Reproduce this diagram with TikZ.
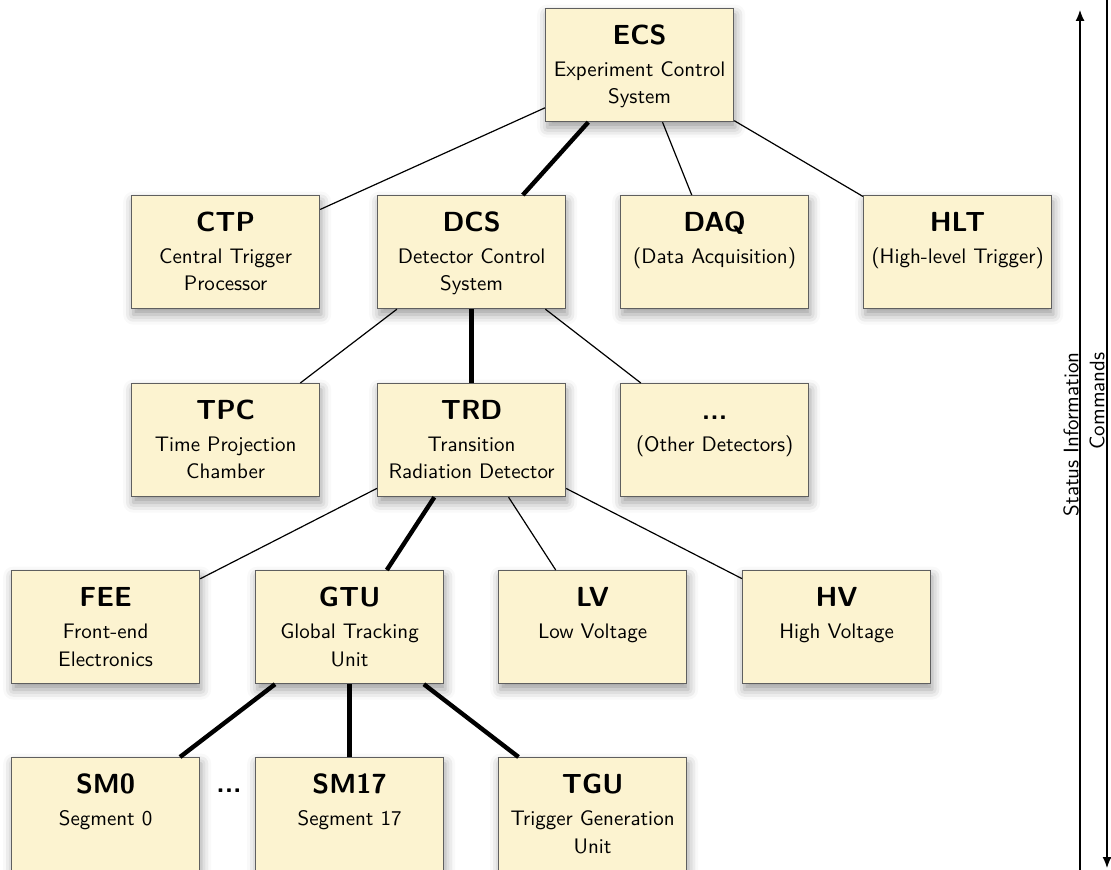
\documentclass[tikz,border=0pt]{standalone}
\usetikzlibrary{shadows.blur,arrows.meta}
\definecolor{boxfill}{RGB}{252,243,208}
\definecolor{boxline}{RGB}{95,95,95}
% box contents: bold title on top, description below, top aligned
\newcommand\unitbox[2]{\begin{minipage}[c][56.5pt][t]{94pt}\centering
  \rule{0pt}{18pt}{\fontsize{13.8}{16}\selectfont\bfseries #1}\par\vspace{2.3pt}
  \fontsize{10.5}{13.7}\selectfont #2\par\end{minipage}}
\begin{document}
\begin{tikzpicture}[x=0.5pt,y=-0.5pt,font=\sffamily,
  blk/.style={draw=boxline,fill=boxfill,inner sep=0pt,anchor=north west,line width=0.6pt,
    blur shadow={shadow xshift=0.8pt,shadow yshift=-3pt,shadow blur radius=5pt,shadow opacity=40}},
  thinlink/.style={line width=0.6pt},
  thicklink/.style={line width=2.2pt},
  flow/.style={line width=0.6pt,-{Latex[length=5.5pt,width=4.5pt]}},
  sidetext/.style={rotate=90,anchor=east,inner sep=0pt,font=\sffamily\fontsize{10.5}{12}\selectfont}]
\useasboundingbox (0,0) rectangle (1111,870);

% level 0
\node[blk] (ECS) at (545,8) {\unitbox{ECS}{Experiment Control\\System}};
% level 1
\node[blk] (CTP) at (131,195) {\unitbox{CTP}{Central Trigger\\Processor}};
\node[blk] (DCS) at (377,195) {\unitbox{DCS}{Detector Control\\System}};
\node[blk] (DAQ) at (620,195) {\unitbox{DAQ}{(Data Acquisition)}};
\node[blk] (HLT) at (863,195) {\unitbox{HLT}{(High-level Trigger)}};
% level 2
\node[blk] (TPC) at (131,383) {\unitbox{TPC}{Time Projection\\Chamber}};
\node[blk] (TRD) at (377,383) {\unitbox{TRD}{Transition\\Radiation Detector}};
\node[blk] (OTH) at (620,383) {\unitbox{...}{(Other Detectors)}};
% level 3
\node[blk] (FEE) at (11,570) {\unitbox{FEE}{Front-end\\Electronics}};
\node[blk] (GTU) at (255,570) {\unitbox{GTU}{Global Tracking\\Unit}};
\node[blk] (LV) at (498,570) {\unitbox{LV}{Low Voltage}};
\node[blk] (HV) at (742,570) {\unitbox{HV}{High Voltage}};
% level 4
\node[blk] (SM0) at (11,757) {\unitbox{SM0}{Segment 0}};
\node[blk] (SM17) at (255,757) {\unitbox{SM17}{Segment 17}};
\node[blk] (TGU) at (498,757) {\unitbox{TGU}{Trigger Generation\\Unit}};
\node[anchor=base,font=\sffamily\fontsize{13.8}{16}\selectfont\bfseries,inner sep=0pt] (gap) at (229,792) {...};

% hierarchy links; the thick ones lead down to the TGU
\draw[thinlink] (ECS) -- (CTP);
\draw[thicklink] (ECS) -- (DCS);
\draw[thinlink] (ECS) -- (DAQ);
\draw[thinlink] (ECS) -- (HLT);
\draw[thinlink] (DCS) -- (TPC);
\draw[thicklink] (DCS) -- (TRD);
\draw[thinlink] (DCS) -- (OTH);
\draw[thinlink] (TRD) -- (FEE);
\draw[thicklink] (TRD) -- (GTU);
\draw[thinlink] (TRD) -- (LV);
\draw[thinlink] (TRD) -- (HV);
\draw[thicklink] (GTU) -- (SM0);
\draw[thicklink] (GTU) -- (SM17);
\draw[thicklink] (GTU) -- (TGU);

% information flow along the right side
\coordinate (upfoot) at (1080,880);
\coordinate (uptip) at (1080,10);
\coordinate (downfoot) at (1107,-10);
\coordinate (downtip) at (1107,868);
\draw[flow] (upfoot) -- (uptip);
\draw[flow] (downfoot) -- (downtip);
\node[sidetext] (status) at (1071,352) {Status Information};
\node[sidetext] (cmds) at (1097,352) {Commands};
\end{tikzpicture}
\end{document}
